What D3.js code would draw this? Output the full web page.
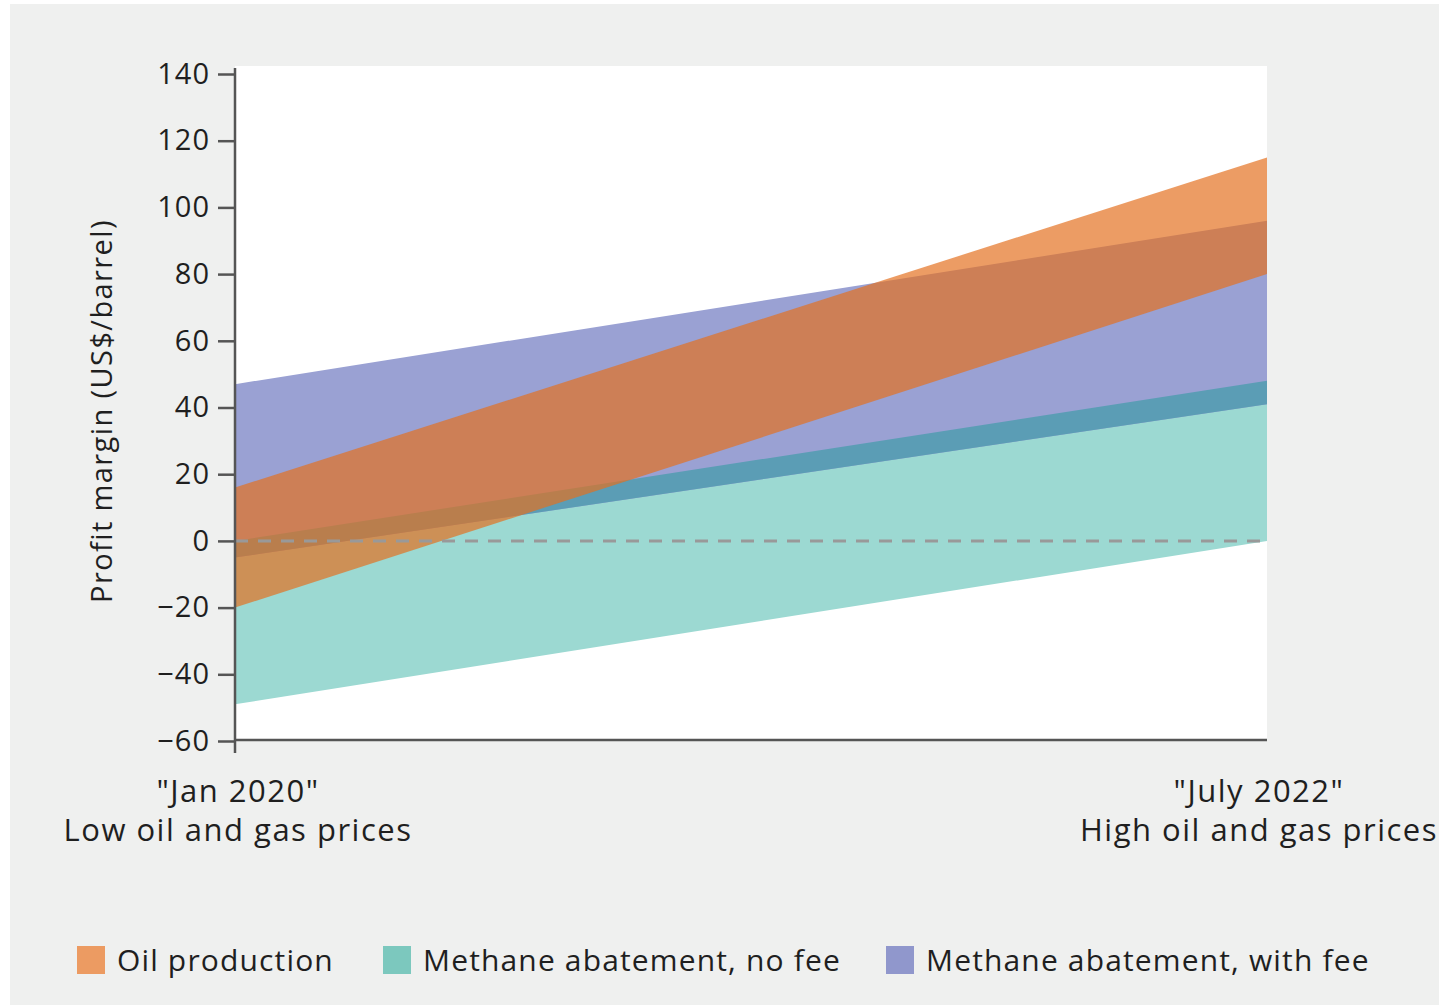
<!DOCTYPE html>
<html><head><meta charset="utf-8">
<script src="https://cdn.jsdelivr.net/npm/d3@7"></script>
<style>
body{margin:0;background:#fff;}
text{font-family:"Open Sans",sans-serif;fill:#1f1f1f;}
</style></head>
<body><svg id="c" width="1439" height="1005"></svg>
<script>
const periods = ['"Jan 2020"', '"July 2022"'];
const periodSub = ["Low oil and gas prices", "High oil and gas prices"];
const yTicks = [-60, -40, -20, 0, 20, 40, 60, 80, 100, 120, 140];
const seriesNames = ["Oil production", "Methane abatement, no fee", "Methane abatement, with fee"];
// band [low, high] at each period
const oilLow = [-20, 80], oilHigh = [16, 115];
const noFeeLow = [-49, 0], noFeeHigh = [0, 48];
const withFeeLow = [-5, 41], withFeeHigh = [47, 96];

const svg = d3.select("#c");
svg.append("rect").attr("x",10).attr("y",4).attr("width",1429).attr("height",1001).attr("fill","#eff0ef");

const x = d3.scalePoint().domain([0,1]).range([235,1267]);
const y = d3.scaleLinear().domain([-60,140]).range([741,74]);

svg.append("rect").attr("x",235).attr("y",66).attr("width",1032).attr("height",741-66).attr("fill","#fff");

const area = d3.area().x((d,i)=>x(i)).y0(d=>y(d[0])).y1(d=>y(d[1]));
const band = (lo,hi)=>lo.map((v,i)=>[v,hi[i]]);
const dNoFee = band(noFeeLow,noFeeHigh), dWith = band(withFeeLow,withFeeHigh), dOil = band(oilLow,oilHigh);

const defs = svg.append("defs");
defs.append("clipPath").attr("id","clipWith").append("path").attr("d",area(dWith));

svg.append("path").attr("d",area(dNoFee)).attr("fill","#9cd9d2");
svg.append("path").attr("d",area(dWith)).attr("fill","#9aa1d3");
svg.append("path").attr("d",area(dNoFee)).attr("fill","#5b9db5").attr("clip-path","url(#clipWith)");
svg.append("path").attr("d",area(dOil)).attr("fill","rgb(227,112,30)").attr("fill-opacity",0.69);

// zero line
svg.append("line").attr("x1",x(0)).attr("x2",x(1)).attr("y1",y(0)).attr("y2",y(0))
  .attr("stroke","#999").attr("stroke-width",3).attr("stroke-dasharray","13,10");

// y axis
const yAxis = svg.append("g").attr("transform","translate(235,0)")
  .call(d3.axisLeft(y).tickValues(yTicks).tickSize(17).tickPadding(8).tickFormat(d=>d<0?"\u2212"+Math.abs(d):d));
yAxis.select(".domain").attr("d","M0,68V753").attr("stroke","#555").attr("stroke-width",2.5);
yAxis.selectAll(".tick line").attr("stroke","#555").attr("stroke-width",2.5);
yAxis.selectAll(".tick text").attr("font-size",29).attr("fill","#1f1f1f").attr("letter-spacing",1)
  .style("font-family","'Open Sans',sans-serif");

// x axis
svg.append("line").attr("x1",235).attr("x2",1267).attr("y1",740).attr("y2",740).attr("stroke","#555").attr("stroke-width",2.5);

const xl = svg.append("g");
[0,1].forEach(i=>{
  const cx = i===0 ? x(0)+3 : x(1)-8;
  xl.append("text").attr("x",cx).attr("y",802).attr("text-anchor","middle").attr("font-size",31).attr("letter-spacing",1.5).text(periods[i]);
  xl.append("text").attr("x",cx).attr("y",841).attr("text-anchor","middle").attr("font-size",31).attr("letter-spacing",1.5).text(periodSub[i]);
});

svg.append("text").attr("transform","translate(112,411) rotate(-90)").attr("text-anchor","middle")
  .attr("font-size",29).attr("letter-spacing",1.4).text("Profit margin (US$/barrel)");

// legend
const legColors = ["#ec9b62","#7cc8be","#9097cc"];
const legX = [77, 383, 886];
seriesNames.forEach((n,i)=>{
  svg.append("rect").attr("x",legX[i]).attr("y",946).attr("width",28).attr("height",28).attr("fill",legColors[i]);
  svg.append("text").attr("x",legX[i]+40).attr("y",971).attr("font-size",30).attr("letter-spacing",1.15).text(n);
});
</script></body></html>
